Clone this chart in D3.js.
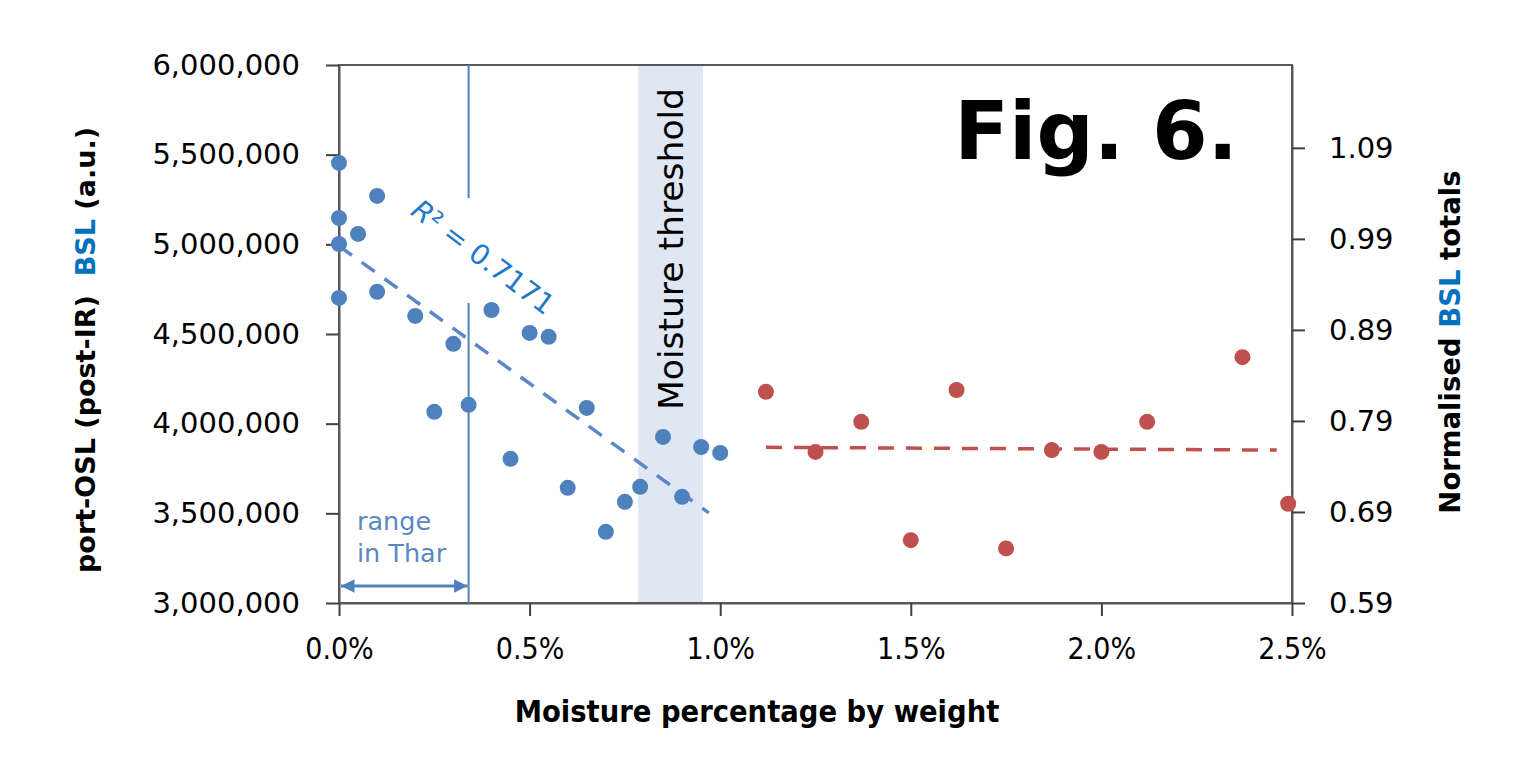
<!DOCTYPE html>
<html>
<head>
<meta charset="utf-8">
<script src="https://cdn.jsdelivr.net/npm/d3@7"></script>
<style>
  body { margin: 0; background: #fff; }
  text { fill: #000; }
</style>
</head>
<body>
<svg id="chart" width="1526" height="764"></svg>
<script>
// blue series: post-IR BSL counts (left axis) vs moisture %
const blueMoisture = [0, 0, 0, 0, 0.05, 0.1, 0.1, 0.2, 0.25, 0.3, 0.34, 0.4, 0.45, 0.5, 0.55, 0.6, 0.65, 0.7, 0.75, 0.79, 0.85, 0.9, 0.95, 1.0];
const blueBSL = [5454000, 5147000, 5002000, 4701000, 5058000, 5270000, 4735000, 4601000, 4066000, 4445000, 4105000, 4634000, 3804000, 4506000, 4484000, 3642000, 4088000, 3397000, 3564000, 3648000, 3926000, 3592000, 3870000, 3837000];

// red series: normalised BSL totals (right axis)
const redMoisture = [1.12, 1.25, 1.37, 1.5, 1.62, 1.75, 1.87, 2.0, 2.12, 2.37, 2.49];
const redNorm = [0.822, 0.756, 0.789, 0.659, 0.824, 0.650, 0.758, 0.756, 0.789, 0.860, 0.699];

// trend lines (end points)
const blueTrendX = [0, 0.97];
const blueTrendY = [4991000, 3503000];
const redTrendX = [1.12, 2.46];
const redTrendY = [0.761, 0.758];

// axis ticks
const xTicks = [0, 0.5, 1.0, 1.5, 2.0, 2.5];
const leftTicks = [3000000, 3500000, 4000000, 4500000, 5000000, 5500000, 6000000];
const rightTicks = [0.59, 0.69, 0.79, 0.89, 0.99, 1.09];

// annotations
const tharRange = [0, 0.34];
const thresholdBand = [0.785, 0.955];

const svg = d3.select("#chart");
const plotLeft = 339, plotRight = 1292, plotTop = 65, plotBottom = 603;

const x = d3.scaleLinear().domain([0, 2.5]).range([plotLeft, plotRight]);
const yL = d3.scaleLinear().domain([3000000, 6000000]).range([plotBottom, plotTop]);
const yR = d3.scaleLinear().domain([0.59, 1.181]).range([plotBottom, plotTop]);

const blue = "#4f81bd", red = "#c0504d", brightBlue = "#0070c0";

// moisture threshold band
svg.append("rect")
  .attr("x", x(thresholdBand[0]))
  .attr("y", plotTop)
  .attr("width", x(thresholdBand[1]) - x(thresholdBand[0]))
  .attr("height", plotBottom - plotTop)
  .attr("fill", "#dfe7f2");

svg.append("text")
  .attr("transform", `translate(${x((thresholdBand[0] + thresholdBand[1]) / 2)},249) rotate(-90)`)
  .attr("text-anchor", "middle")
  .attr("dominant-baseline", "central")
  .style("font-family", "DejaVu Sans")
  .style("font-size", "34.5px")
  .text("Moisture threshold");

// plot border
svg.append("rect")
  .attr("x", plotLeft).attr("y", plotTop)
  .attr("width", plotRight - plotLeft).attr("height", plotBottom - plotTop)
  .attr("fill", "none")
  .attr("stroke", "#595959")
  .attr("stroke-width", 2);

// axes
function styleAxis(g) {
  g.selectAll("path").attr("stroke", "#595959").attr("stroke-width", 2);
  g.selectAll("line").attr("stroke", "#404040").attr("stroke-width", 2);
}

const xAxis = svg.append("g")
  .attr("transform", `translate(0,${plotBottom})`)
  .call(d3.axisBottom(x).tickValues(xTicks).tickSize(13).tickSizeOuter(0)
    .tickPadding(22).tickFormat(d => d.toFixed(1) + "%"));
styleAxis(xAxis);
xAxis.selectAll("text")
  .style("font-family", "'DejaVu Sans Condensed', 'DejaVu Sans'")
  .style("font-stretch", "condensed")
  .style("font-size", "30px")
  .attr("fill", "#000");

const leftAxis = svg.append("g")
  .attr("transform", `translate(${plotLeft},0)`)
  .call(d3.axisLeft(yL).tickValues(leftTicks).tickSize(13).tickSizeOuter(0)
    .tickPadding(26).tickFormat(d3.format(",")));
styleAxis(leftAxis);
leftAxis.selectAll("text")
  .style("font-family", "DejaVu Sans")
  .style("font-size", "29px")
  .attr("fill", "#000");

const rightAxis = svg.append("g")
  .attr("transform", `translate(${plotRight},0)`)
  .call(d3.axisRight(yR).tickValues(rightTicks).tickSize(13).tickSizeOuter(0)
    .tickPadding(24).tickFormat(d3.format(".2f")));
styleAxis(rightAxis);
rightAxis.selectAll("text")
  .style("font-family", "DejaVu Sans")
  .style("font-size", "29px")
  .attr("fill", "#000");

// range in Thar marker
svg.append("line")
  .attr("x1", x(tharRange[1])).attr("x2", x(tharRange[1]))
  .attr("y1", plotTop).attr("y2", yL(5258000))
  .attr("stroke", blue).attr("stroke-width", 2);
svg.append("line")
  .attr("x1", x(tharRange[1])).attr("x2", x(tharRange[1]))
  .attr("y1", yL(4673000)).attr("y2", plotBottom)
  .attr("stroke", blue).attr("stroke-width", 2);

svg.append("defs").append("marker")
  .attr("id", "arrow")
  .attr("viewBox", "0 0 10 10")
  .attr("refX", 10).attr("refY", 5)
  .attr("markerWidth", 4.5).attr("markerHeight", 4.5)
  .attr("orient", "auto-start-reverse")
  .append("path")
  .attr("d", "M0,0 L10,5 L0,10 Z")
  .attr("fill", blue);

svg.append("line")
  .attr("x1", x(tharRange[0]) + 2).attr("x2", x(tharRange[1]) - 1)
  .attr("y1", 586).attr("y2", 586)
  .attr("stroke", blue).attr("stroke-width", 3)
  .attr("marker-start", "url(#arrow)")
  .attr("marker-end", "url(#arrow)");

const tharText = svg.append("text")
  .style("font-family", "DejaVu Sans")
  .style("font-size", "25.5px")
  .style("fill", "#5b87c5");
tharText.append("tspan").attr("x", 357).attr("y", 530).text("range");
tharText.append("tspan").attr("x", 357).attr("y", 562).text("in Thar");

// trend lines
const line = (sx, sy) => d3.line().x((d, i) => x(sx[i])).y(d => sy(d));

svg.append("path")
  .attr("d", line(blueTrendX, yL)(blueTrendY))
  .attr("fill", "none")
  .attr("stroke", "#5b87c6")
  .attr("stroke-width", 3.5)
  .attr("stroke-dasharray", "16,12");

svg.append("path")
  .attr("d", line(redTrendX, yR)(redTrendY))
  .attr("fill", "none")
  .attr("stroke", red)
  .attr("stroke-width", 3.5)
  .attr("stroke-dasharray", "16,12");

// points
svg.append("g").selectAll("circle")
  .data(blueBSL)
  .join("circle")
  .attr("cx", (d, i) => x(blueMoisture[i]))
  .attr("cy", d => yL(d))
  .attr("r", 8)
  .attr("fill", blue);

svg.append("g").selectAll("circle")
  .data(redNorm)
  .join("circle")
  .attr("cx", (d, i) => x(redMoisture[i]))
  .attr("cy", d => yR(d))
  .attr("r", 8)
  .attr("fill", red);

// R squared label
const r2 = svg.append("text")
  .attr("transform", `translate(${x(0.378)},${yL(4930000)}) rotate(37)`)
  .attr("text-anchor", "middle")
  .attr("dominant-baseline", "central")
  .style("font-family", "DejaVu Sans")
  .style("font-size", "28px")
  .style("fill", "#1f78c8");
r2.append("tspan").style("font-style", "italic").text("R");
r2.append("tspan").text("² = 0.7171");

// axis titles
const leftTitle = svg.append("text")
  .attr("transform", "translate(85,350) rotate(-90)")
  .attr("text-anchor", "middle")
  .attr("dominant-baseline", "central")
  .style("font-family", "DejaVu Sans")
  .style("font-weight", "bold")
  .style("font-size", "27px")
  .style("white-space", "pre");
leftTitle.append("tspan").text("port-OSL (post-IR)  ");
leftTitle.append("tspan").style("fill", brightBlue).text("BSL");
leftTitle.append("tspan").text(" (a.u.)");

const rightTitle = svg.append("text")
  .attr("transform", "translate(1450,342) rotate(-90)")
  .attr("text-anchor", "middle")
  .attr("dominant-baseline", "central")
  .style("font-family", "DejaVu Sans")
  .style("font-weight", "bold")
  .style("font-size", "27.5px");
rightTitle.append("tspan").text("Normalised ");
rightTitle.append("tspan").style("fill", brightBlue).text("BSL");
rightTitle.append("tspan").text(" totals");

svg.append("text")
  .attr("x", 757).attr("y", 722)
  .attr("text-anchor", "middle")
  .style("font-family", "'DejaVu Sans Condensed', 'DejaVu Sans'")
  .style("font-stretch", "condensed")
  .style("font-weight", "bold")
  .style("font-size", "30.5px")
  .text("Moisture percentage by weight");

svg.append("text")
  .attr("x", 1238).attr("y", 159)
  .attr("text-anchor", "end")
  .style("font-family", "DejaVu Sans")
  .style("font-weight", "bold")
  .style("font-size", "80px")
  .text("Fig. 6.");
</script>
</body>
</html>
